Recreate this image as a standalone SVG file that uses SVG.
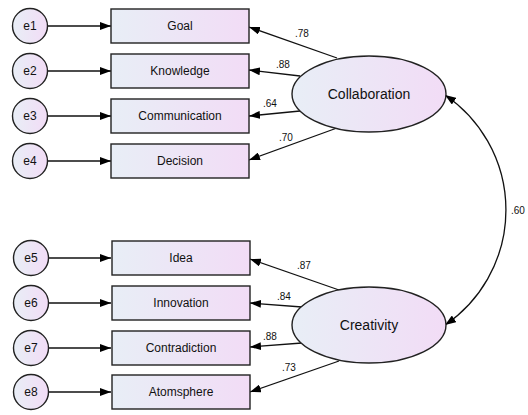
<svg xmlns="http://www.w3.org/2000/svg" width="528" height="415" viewBox="0 0 528 415">
<defs>
<linearGradient id="g" x1="0" y1="0" x2="1" y2="0">
<stop offset="0" stop-color="#e8eef6"/>
<stop offset="1" stop-color="#f2dcf6"/>
</linearGradient>
<marker id="a" markerUnits="userSpaceOnUse" markerWidth="12" markerHeight="8" refX="11" refY="4" orient="auto-start-reverse">
<path d="M0,0 L11,4 L0,8 z" fill="#000"/>
</marker>
</defs>
<style>
.n{fill:url(#g);stroke:#222;stroke-width:1.4}
.t{font-family:"Liberation Sans",Arial,sans-serif;font-size:12px;fill:#111;text-anchor:middle}
.big{font-size:14px}
.w{font-family:"Liberation Sans",Arial,sans-serif;font-size:10px;fill:#111}
.c line,.c path{stroke:#111;stroke-width:1.3;fill:none;marker-end:url(#a)}
</style>
<g class="c" id="connectors">
<line x1="47" y1="26" x2="111" y2="26"/>
<line x1="47" y1="71" x2="111" y2="71"/>
<line x1="47" y1="116" x2="111" y2="116"/>
<line x1="47" y1="161" x2="111" y2="161"/>
<line x1="48" y1="258" x2="111" y2="258"/>
<line x1="48" y1="303" x2="111" y2="303"/>
<line x1="48" y1="348" x2="111" y2="348"/>
<line x1="48" y1="392" x2="111" y2="392"/>
<line x1="337" y1="58" x2="249" y2="27"/>
<line x1="300" y1="76" x2="249" y2="70"/>
<line x1="300" y1="111" x2="249" y2="116"/>
<line x1="337" y1="128" x2="249" y2="160"/>
<line x1="339" y1="290" x2="250" y2="259"/>
<line x1="302" y1="307" x2="250" y2="303"/>
<line x1="302" y1="343" x2="250" y2="347"/>
<line x1="339" y1="361" x2="250" y2="392"/>
<path d="M445,95 A139,139 0 0 1 445,325" style="marker-start:url(#a)"/>
</g>
<g class="w">
<text x="295" y="37">.78</text>
<text x="276" y="68">.88</text>
<text x="263" y="107">.64</text>
<text x="279" y="141">.70</text>
<text x="297" y="269">.87</text>
<text x="277" y="300">.84</text>
<text x="263" y="340">.88</text>
<text x="282" y="371">.73</text>
<text x="511" y="214">.60</text>
</g>
<g id="e1"><circle class="n" cx="30" cy="26" r="17.5"/><text class="t" x="30" y="30">e1</text></g>
<g id="e2"><circle class="n" cx="30" cy="71" r="17.5"/><text class="t" x="30" y="75">e2</text></g>
<g id="e3"><circle class="n" cx="30" cy="116" r="17.5"/><text class="t" x="30" y="120">e3</text></g>
<g id="e4"><circle class="n" cx="30" cy="161" r="17.5"/><text class="t" x="30" y="165">e4</text></g>
<g id="e5"><circle class="n" cx="31" cy="258" r="17.5"/><text class="t" x="31" y="262">e5</text></g>
<g id="e6"><circle class="n" cx="31" cy="303" r="17.5"/><text class="t" x="31" y="307">e6</text></g>
<g id="e7"><circle class="n" cx="31" cy="348" r="17.5"/><text class="t" x="31" y="352">e7</text></g>
<g id="e8"><circle class="n" cx="31" cy="392" r="17.5"/><text class="t" x="31" y="396">e8</text></g>
<g id="goal"><rect class="n" x="111" y="9" width="138" height="34"/><text class="t" x="180" y="30">Goal</text></g>
<g id="knowledge"><rect class="n" x="111" y="54" width="138" height="34"/><text class="t" x="180" y="75">Knowledge</text></g>
<g id="communication"><rect class="n" x="111" y="99" width="138" height="34"/><text class="t" x="180" y="120">Communication</text></g>
<g id="decision"><rect class="n" x="111" y="144" width="138" height="34"/><text class="t" x="180" y="165">Decision</text></g>
<g id="idea"><rect class="n" x="112" y="241" width="138" height="34"/><text class="t" x="181" y="262">Idea</text></g>
<g id="innovation"><rect class="n" x="112" y="286" width="138" height="34"/><text class="t" x="181" y="307">Innovation</text></g>
<g id="contradiction"><rect class="n" x="112" y="331" width="138" height="34"/><text class="t" x="181" y="352">Contradiction</text></g>
<g id="atomsphere"><rect class="n" x="112" y="375" width="138" height="34"/><text class="t" x="181" y="396">Atomsphere</text></g>
<g id="collaboration"><ellipse class="n" cx="369" cy="94" rx="77" ry="38"/><text class="t big" x="369" y="99">Collaboration</text></g>
<g id="creativity"><ellipse class="n" cx="369" cy="325" rx="77" ry="38"/><text class="t big" x="369" y="330">Creativity</text></g>
</svg>
